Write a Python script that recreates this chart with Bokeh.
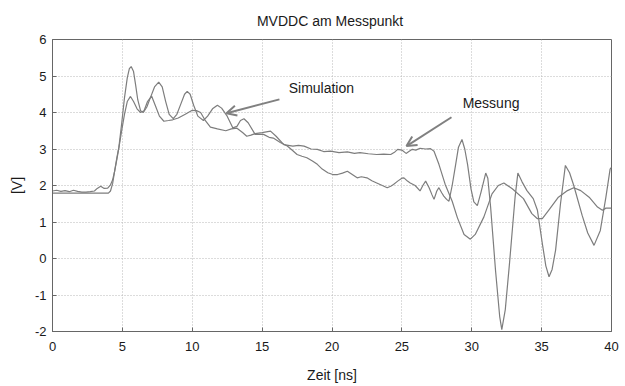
from bokeh.plotting import figure
from bokeh.models import Range1d, FixedTicker, Arrow, OpenHead, Label
from bokeh.embed import file_html
from bokeh.resources import INLINE

# ---------------- data ----------------
mess_t = [0, 0.3, 0.6, 0.9, 1.2, 1.5, 1.8, 2.1, 2.4, 2.7, 3.0, 3.2, 3.45, 3.7, 3.95, 4.15, 4.3, 4.45,
          4.6, 4.75, 4.95, 5.15, 5.35, 5.58, 5.8, 6.05, 6.3, 6.55, 6.8, 7.09, 7.35, 7.65, 7.97, 8.3,
          8.6, 9.0, 9.5, 10.0, 10.3, 10.6, 10.9, 11.3, 11.8, 12.4, 12.8, 13.2, 13.6, 13.9, 14.2, 14.5,
          15.0, 15.6, 16.0, 16.55, 17.2, 17.6, 18.0, 18.5, 18.95, 19.4, 19.9, 20.5, 21.1, 21.6, 22.0,
          22.6, 23.2, 23.7, 24.2, 24.5, 24.7, 25.0, 25.3, 25.5, 25.75, 26.0, 26.3, 26.7, 27.05, 27.3,
          27.65, 28.1, 28.6, 28.97, 29.45, 29.9, 30.25, 30.87, 31.45, 31.9, 32.3, 32.9, 33.7, 34.3,
          34.7, 35.05, 35.5, 36.2, 36.85, 37.3, 37.8, 38.4, 39.0, 39.35, 39.6, 40.0]
mess_v = [1.85, 1.87, 1.84, 1.86, 1.83, 1.87, 1.84, 1.82, 1.82, 1.83, 1.85, 1.92, 1.98, 1.92, 1.93,
          2.02, 2.15, 2.4, 2.7, 3.03, 3.5, 3.95, 4.3, 4.44, 4.3, 4.1, 4.0, 4.05, 4.3, 4.45, 4.2, 3.9,
          3.76, 3.78, 3.8, 3.85, 3.95, 4.06, 4.05, 4.0, 3.8, 3.6, 3.55, 3.5, 3.55, 3.57, 3.45, 3.35,
          3.38, 3.42, 3.45, 3.49, 3.35, 3.12, 3.08, 3.1, 3.08, 3.0, 2.99, 2.93, 2.94, 2.9, 2.92, 2.88,
          2.9, 2.87, 2.85, 2.86, 2.85, 2.92, 2.99, 2.97, 2.88, 2.93, 2.99, 2.97, 3.02, 3.0, 3.01, 2.94,
          2.58, 2.03, 1.57, 1.12, 0.66, 0.53, 0.66, 1.14, 1.77, 2.0, 2.07, 1.91, 1.64, 1.23, 1.09,
          1.09, 1.32, 1.68, 1.86, 1.94, 1.86, 1.68, 1.41, 1.32, 1.38, 1.38]

sim_t = [0, 1.0, 2.0, 3.0, 4.0, 4.15, 4.3, 4.45, 4.6, 4.75, 4.95, 5.15, 5.35, 5.5, 5.63, 5.8, 5.95,
         6.1, 6.3, 6.5, 6.75, 7.0, 7.3, 7.6, 7.85, 8.1, 8.35, 8.64, 8.9, 9.2, 9.45, 9.64, 9.85, 10.1,
         10.4, 10.8, 11.1, 11.45, 11.8, 12.1, 12.5, 12.9, 13.2, 13.45, 13.7, 14.0, 14.5, 15.1, 15.5,
         15.8, 16.3, 16.8, 17.2, 17.5, 17.85, 18.2, 18.6, 18.95, 19.3, 19.7, 20.05, 20.4, 20.75, 21.1,
         21.45, 21.8, 22.1, 22.5, 22.85, 23.2, 23.6, 23.95, 24.2, 24.4, 24.7, 25.0, 25.15, 25.4, 25.6,
         25.95, 26.3, 26.5, 26.7, 26.95, 27.15, 27.3, 27.5, 27.65, 27.85, 28.0, 28.2, 28.37, 28.6,
         28.85, 29.05, 29.3, 29.5, 29.7, 29.95, 30.15, 30.4, 30.65, 31.0, 31.15, 31.35, 31.7, 32.0,
         32.15, 32.4, 32.7, 33.1, 33.3, 33.6, 33.95, 34.4, 34.7, 35.05, 35.3, 35.53, 35.75, 36.0,
         36.35, 36.7, 37.0, 37.3, 37.9, 38.3, 38.75, 39.2, 39.6, 39.9, 40.0]
sim_v = [1.79, 1.79, 1.79, 1.79, 1.79, 1.85, 2.05, 2.4, 2.75, 3.05, 3.7, 4.4, 4.95, 5.2, 5.26, 5.12,
         4.75, 4.35, 4.05, 4.0, 4.15, 4.4, 4.7, 4.83, 4.7, 4.3, 3.95, 3.83, 3.95, 4.25, 4.5, 4.58, 4.5,
         4.2, 3.9, 3.78, 3.9, 4.1, 4.2, 4.12, 3.9, 3.58, 3.62, 3.78, 3.83, 3.72, 3.4, 3.4, 3.32, 3.3,
         3.18, 3.08, 2.95, 2.85, 2.8, 2.76, 2.67, 2.58, 2.45, 2.35, 2.3, 2.3, 2.34, 2.39, 2.3, 2.21,
         2.24, 2.21, 2.13, 2.07, 2.0, 1.94, 1.98, 2.03, 2.12, 2.2, 2.21, 2.12, 2.07, 2.0, 1.85, 2.0,
         2.12, 1.94, 1.75, 1.62, 1.85, 1.94, 1.8, 1.71, 1.62, 1.57, 2.0, 2.58, 3.05, 3.26, 3.0, 2.58,
         1.9, 1.55, 1.45, 1.8, 2.34, 2.2, 1.41, -0.32, -1.59, -1.95, -1.4, -0.14, 1.68, 2.34, 2.1,
         1.86, 1.64, 1.32, 0.41, -0.2, -0.5, -0.3, 0.23, 1.5, 2.55, 2.35, 2.0, 1.18, 0.7, 0.36, 0.77,
         1.68, 2.45, 2.5]

x_ticks = [0, 5, 10, 15, 20, 25, 30, 35, 40]
y_ticks = [-2, -1, 0, 1, 2, 3, 4, 5, 6]
y_tick_labels = ["-2", "-1", "0", "1", "2", "3", "4", "5", "6"]

title_text = "MVDDC  am Messpunkt"
x_label = "Zeit [ns]"
y_label = "[V]"

# annotation anchors (data coordinates)
sim_label = ("Simulation", 16.9, 4.66)
sim_arrow = (16.24, 4.36, 12.45, 3.98)
mess_label = ("Messung", 29.35, 4.25)
mess_arrow = (28.55, 3.87, 25.33, 3.08)

# ---------------- styling ----------------
FONT = "Liberation Sans"
LINE = "#7d7d7d"
AXIS = "#666666"
TXT = "#1a1a1a"

p = figure(width=625, height=386, output_backend="svg", toolbar_location=None,
           x_range=Range1d(0, 40), y_range=Range1d(-2, 6),
           min_border_left=52, min_border_right=14, min_border_top=38, min_border_bottom=55)

p.title.text = title_text
p.title.align = "center"
p.title.text_font = FONT
p.title.text_font_style = "normal"
p.title.text_font_size = "14px"
p.title.text_color = TXT
p.title.standoff = 21

p.background_fill_color = "white"
p.border_fill_color = "white"
p.outline_line_color = AXIS
p.outline_line_width = 1

for ax, ticks in ((p.xaxis[0], x_ticks), (p.yaxis[0], y_ticks)):
    ax.ticker = FixedTicker(ticks=ticks)
    ax.major_tick_in = 4
    ax.major_tick_out = 0
    ax.minor_tick_line_color = None
    ax.axis_line_color = AXIS
    ax.major_tick_line_color = AXIS
    ax.major_label_text_font = FONT
    ax.major_label_text_font_size = "13px"
    ax.major_label_text_color = TXT
    ax.axis_label_text_font = FONT
    ax.axis_label_text_font_size = "14px"
    ax.axis_label_text_font_style = "normal"
    ax.axis_label_text_color = TXT

p.yaxis[0].major_label_overrides = {t: s for t, s in zip(y_ticks, y_tick_labels)}
p.xaxis[0].axis_label = x_label
p.yaxis[0].axis_label = y_label
p.xaxis[0].major_label_standoff = 10
p.xaxis[0].axis_label_standoff = 13
p.yaxis[0].major_label_standoff = 6
p.yaxis[0].axis_label_standoff = 7

p.xgrid.ticker = FixedTicker(ticks=x_ticks)
p.ygrid.ticker = FixedTicker(ticks=y_ticks)
p.grid.grid_line_color = "#b8b8b8"
p.grid.grid_line_dash = "1 2"
p.grid.grid_line_width = 1

p.line(mess_t, mess_v, line_color=LINE, line_width=1.2)
p.line(sim_t, sim_v, line_color=LINE, line_width=1.2)

for (txt, lx, ly), (xs, ys, xe, ye) in ((sim_label, sim_arrow), (mess_label, mess_arrow)):
    p.add_layout(Label(x=lx, y=ly, text=txt, text_font=FONT, text_font_size="14px",
                       text_color=TXT, text_baseline="middle", text_align="left"))
    p.add_layout(Arrow(x_start=xs, y_start=ys, x_end=xe, y_end=ye,
                       line_color="#808080", line_width=2,
                       end=OpenHead(size=10, line_color="#808080", line_width=2)))

open("out.html", "w").write(file_html(p, INLINE))
